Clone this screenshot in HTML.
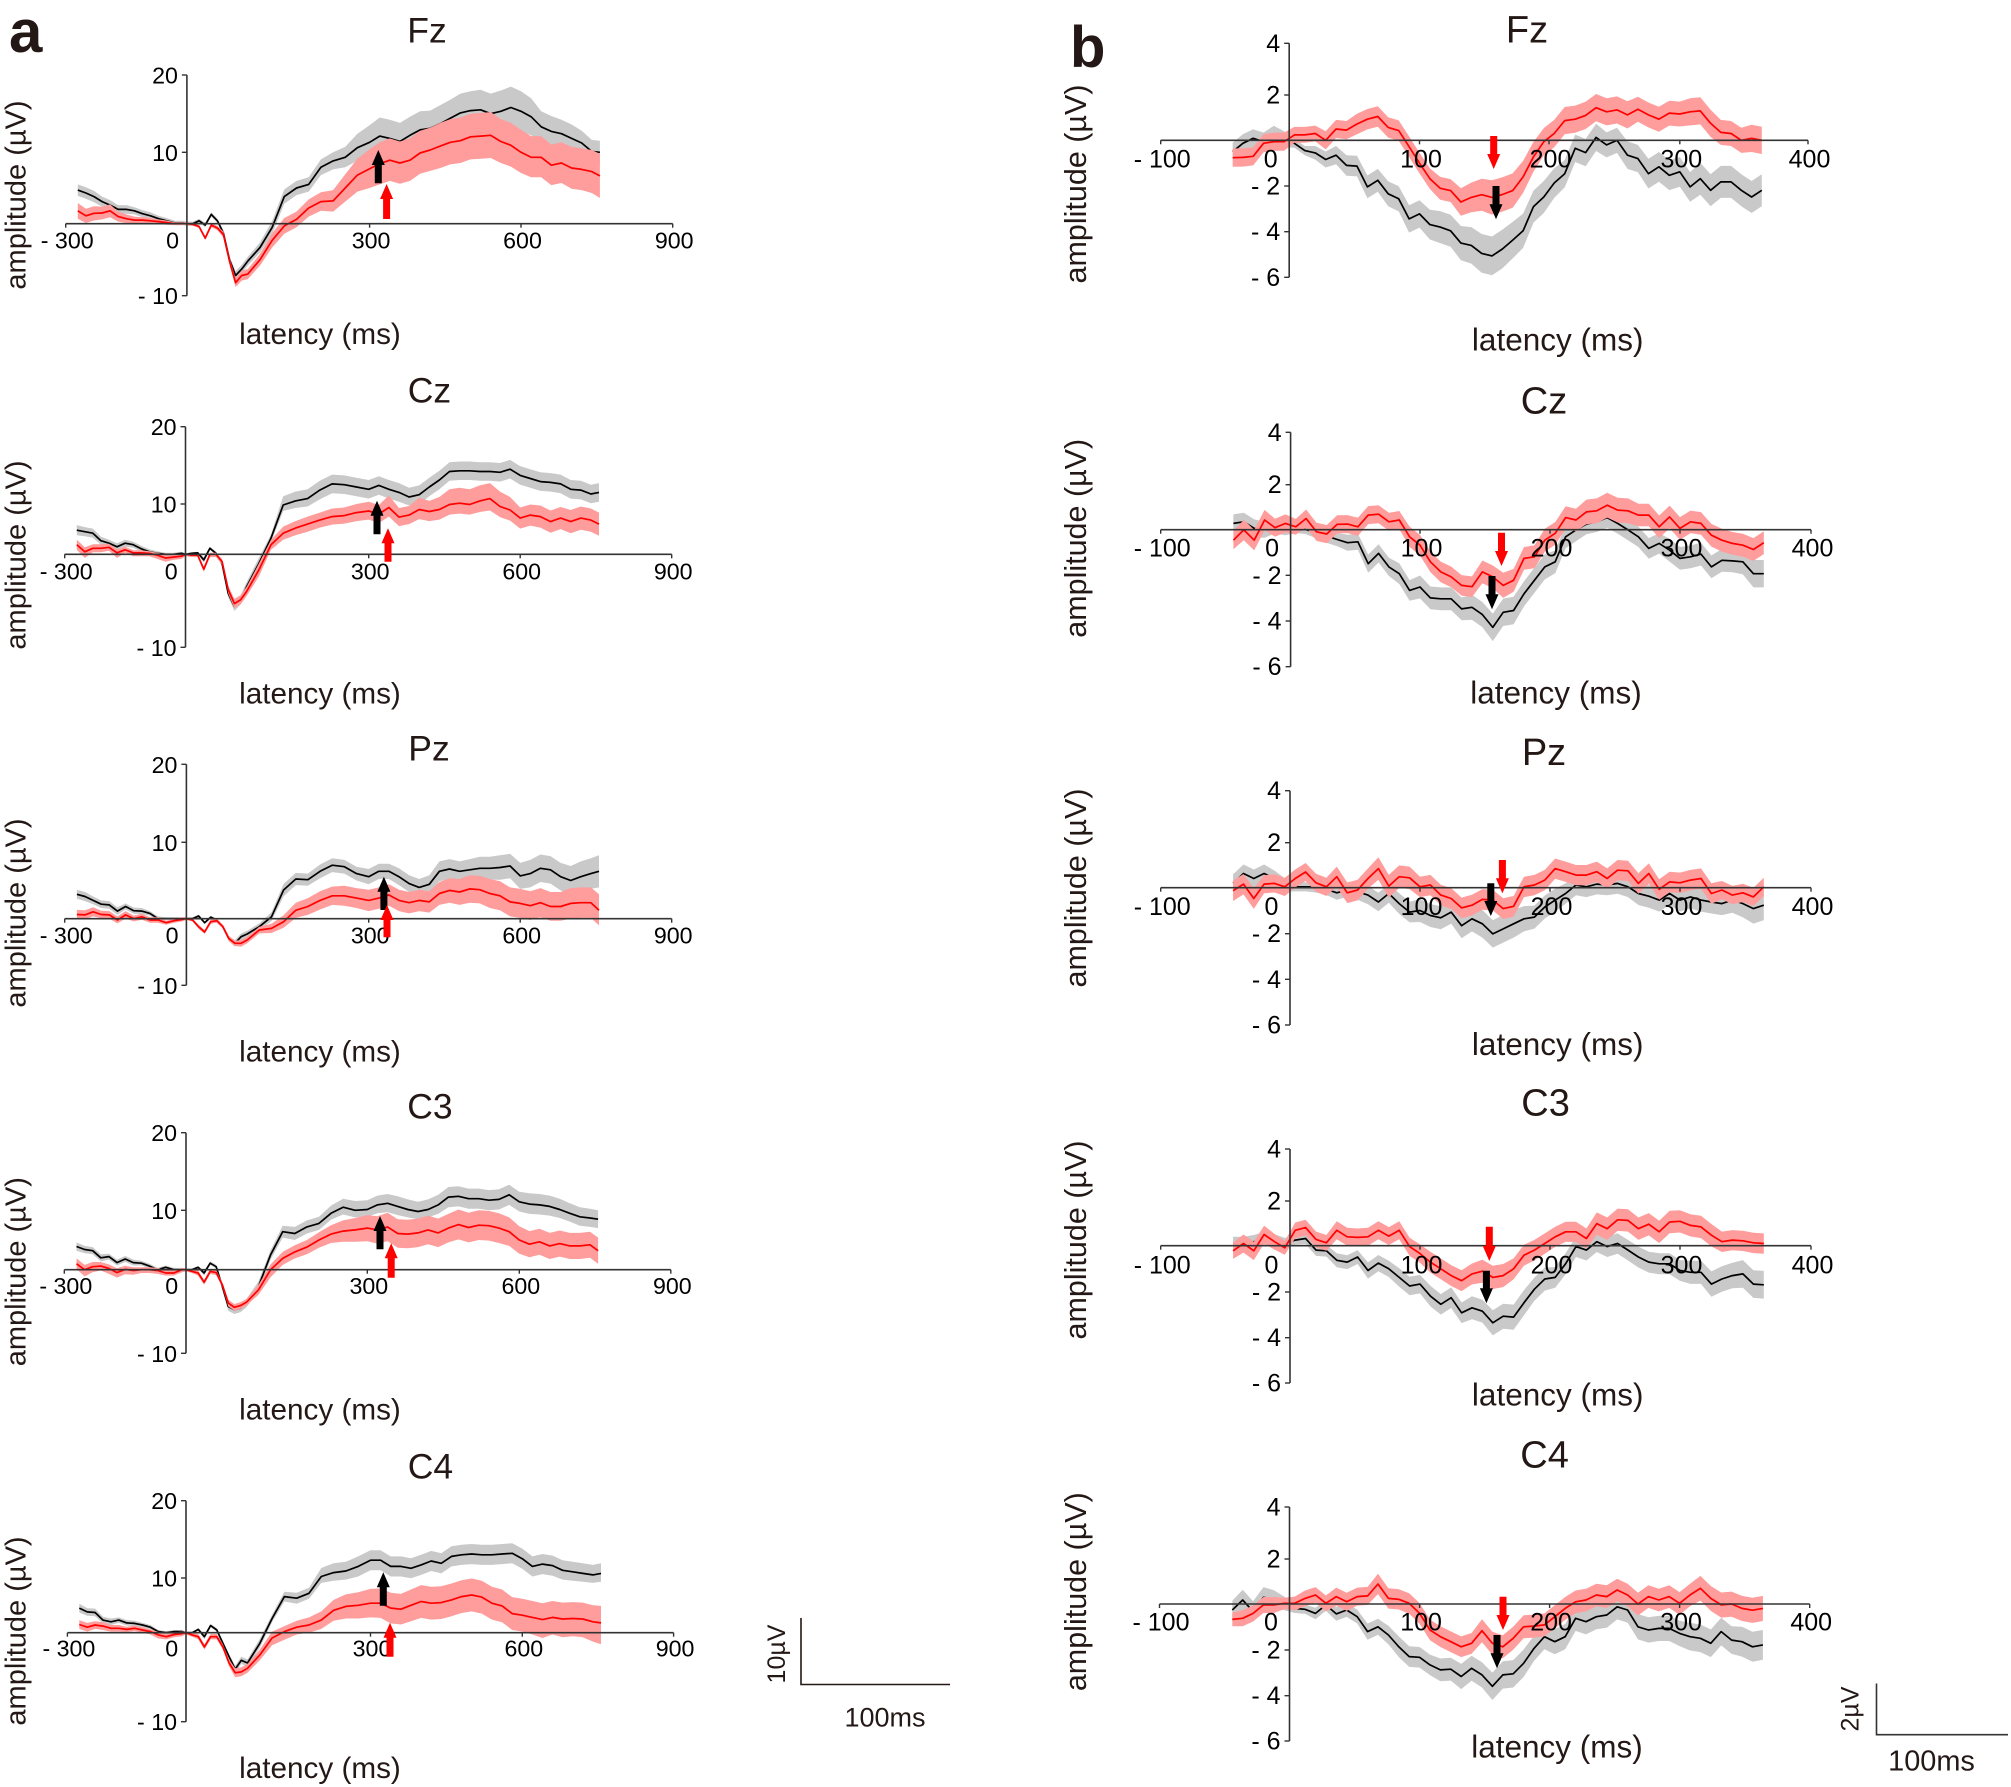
<!DOCTYPE html>
<html lang="en">
<head>
<meta charset="utf-8">
<title>ERP waveforms at Fz, Cz, Pz, C3 and C4</title>
<style>
html,body{margin:0;padding:0;background:#fff;width:2011px;height:1787px;overflow:hidden}
svg{display:block;font-family:"Liberation Sans",Arial,sans-serif}
</style>
</head>
<body>
<svg id="figure" xmlns="http://www.w3.org/2000/svg" width="2011" height="1787" viewBox="0 0 2011 1787">
  <rect x="0" y="0" width="2011" height="1787" fill="#fff"/>
  <g id="panels"></g>
  <text x="9" y="52" font-size="60" font-weight="bold" fill="#231815">a</text>
  <text x="1070" y="67" font-size="58" font-weight="bold" fill="#231815">b</text>
  <g>
    <path d="M801 1618V1684.5H950" fill="none" stroke="#231815" stroke-width="1.6"/>
    <text transform="translate(785 1654) rotate(-90)" text-anchor="middle" font-size="25" fill="#231815">10µV</text>
    <text x="885" y="1726.5" text-anchor="middle" font-size="27" fill="#231815">100ms</text>
  </g>
  <g>
    <path d="M1876.5 1683.5V1734.7H2008" fill="none" stroke="#333" stroke-width="1.6"/>
    <text transform="translate(1858.5 1709) rotate(-90)" text-anchor="middle" font-size="25" fill="#231815">2µV</text>
    <text x="1931.5" y="1770.5" text-anchor="middle" font-size="28.9" fill="#231815">100ms</text>
  </g>
</svg>
<script>
// ---------- Column a: latency samples and tick labels ----------
const latA=[-270,-250,-230,-210,-190,-170,-150,-130,-110,-90,-70,-50,-30,-10,0,
10,20,30,40,50,60,70,80,90,100,
120,140,160,180,200,220,240,260,280,300,
320,340,360,380,400,420,440,460,480,500,520,540,560,580,600,620,640,660,680,700,720,740,756];
const xTicksA=[-300,0,300,600,900];
const xTickLabelsA=['- 300','0','300','600','900'];
const yTicksA=[-10,0,10,20];
const yTickLabelsA=['- 10','','10','20'];

// Column a series (µV)
const aFzBlack=[4.7,4.3,3.8,3.1,2.6,2,2,1.8,1.4,1.1,.7,.4,.1,.1,0,
0,.4,-.2,1.3,.4,-1.3,-5,-7.2,-6.3,-5.2,
-3.3,-.5,3.8,5,5.5,7.9,8.8,9.3,10.6,11.3,
12.1,11.8,11.4,12.2,12.9,13.1,13.7,14.4,15.1,15.4,15.5,15,15.3,15.8,15.3,14.6,13.3,12.7,12.4,11.8,11.2,10.1,10];
const aFzBlackSem=[.8,.8,.8,.7,.7,.6,.6,.5,.5,.5,.4,.4,.3,.3,.3,
.3,.3,.3,.3,.3,.4,.5,.6,.6,.6,
.7,.9,1,1,1,1.1,1.2,1.4,1.8,2.2,
2.4,2.4,2.4,2.4,2.4,2.3,2.4,2.4,2.5,2.5,2.6,2.6,2.7,2.7,2.6,2.4,2,2,1.8,1.8,1.6,1.5,1.5];
const aFzRed=[1.8,1.1,1.45,1.5,1.8,1,.7,.5,.5,.4,.3,.15,0,0,0,
-.1,-.4,-2,-.2,-.6,-1.5,-5.2,-8.2,-7.2,-7,
-5,-2.3,-.3,.6,2.2,3.1,3.2,5,6.8,7.7,
8.4,8.9,8.5,8.9,9.9,10.3,10.8,11.3,11.5,12,12.1,12.2,11.4,10.9,10,9.3,9.3,8.2,8.5,7.8,7.6,7.3,6.7];
const aFzRedSem=[1.1,1,1,.9,.9,.7,.6,.5,.4,.4,.3,.3,.2,.2,.2,
.2,.2,.3,.3,.3,.4,.5,.6,.7,.7,
.8,1,1.1,1.1,1.2,1.3,1.5,1.9,2.3,2.7,
2.9,2.9,2.9,2.9,2.9,2.9,3,3,3,3,3,3,2.9,2.9,2.9,2.8,2.8,2.8,2.8,2.9,2.9,3,3.1];

const aCzBlack=[4.8,4.5,4.2,2.7,2.2,1.5,2.2,1.9,1.1,.5,.2,0,0,.2,0,
.2,.3,-.6,1.2,.2,-1,-4.2,-5.6,-4.9,-3.5,
-1,3.2,9.8,10.4,10.7,11.8,12.6,12.5,12.2,11.9,
12.4,11.9,11.5,10.9,11.2,12.2,13.1,14.2,14.3,14.3,14.2,14.2,14.1,14.5,13.7,13.3,12.9,12.8,12.6,11.9,11.8,11.3,11.5];
const aCzBlackSem=[1,.9,.9,.8,.7,.7,.7,.6,.6,.5,.4,.3,.3,.3,.2,
.2,.2,.3,.3,.3,.3,.4,.5,.5,.5,
.6,.8,1.2,1.2,1.2,1.2,1.2,1.2,1.2,1.2,
1.2,1.2,1.2,1.2,1.2,1.2,1.2,1.2,1.2,1.2,1.2,1.2,1.2,1.2,1.2,1.2,1.2,1.2,1.2,1.2,1.2,1.2,1.2];
const aCzRed=[1.9,.5,1.2,1.2,1.4,.3,.9,.3,.3,.2,-.1,-.4,-.3,-.2,0,
-.1,-.1,-1.6,0,0,-.8,-3.8,-5.3,-4.9,-4,
-1.7,1.9,4.2,5.2,6,6.8,7.5,7.7,8.3,8.6,
8,9.3,7.4,7.8,8.9,8.5,8.9,9.9,10.1,9.9,10.4,10.7,9.5,8.8,7.2,7.8,7.5,6.5,7.2,6.5,7.2,6.8,6];
const aCzRedSem=[1,.9,.8,.8,.7,.7,.6,.5,.5,.4,.4,.4,.3,.3,.2,
.2,.2,.3,.3,.3,.3,.4,.5,.5,.5,
.7,1,1.3,1.4,1.5,1.5,1.6,1.6,1.7,1.7,
1.8,1.8,1.8,1.8,1.9,1.9,2,2,2,2,2,2,2.1,2.1,2.1,2.1,2.2,2.2,2.2,2.3,2.3,2.3,2.3];

const aPzBlack=[3.2,2.9,2.4,1.9,1.8,1,1.6,1.05,1,.7,0,0,0,0,0,
0,.35,-.6,.2,-.2,-1.2,-3,-3.7,-2.7,-2.3,
-1.2,.25,3.75,5.2,5.1,6.2,7,6.8,5.9,5.5,
6.2,6.2,5.5,4.6,4.1,4.5,6.2,6.5,6.2,6.4,6.6,6.6,6.7,6.9,5.6,5.9,6.6,6.4,5.5,5,5.5,5.9,6.2];
const aPzBlackSem=[.6,.6,.5,.5,.5,.5,.4,.4,.4,.3,.3,.2,.2,.2,.2,
.2,.2,.2,.2,.2,.3,.4,.5,.5,.5,
.5,.6,.8,.8,.8,.9,.9,.9,.9,1,
1,1,1.1,1.1,1.1,1.2,1.3,1.3,1.3,1.4,1.5,1.5,1.6,1.6,1.7,1.8,1.8,1.8,1.8,1.9,2,2,2.1];
const aPzRed=[.55,.5,.9,.55,.5,-.2,.5,0,.25,-.2,-.2,-.6,-.3,-.1,0,
-.2,-1.2,-2,-.45,-.3,-1.2,-3,-3.7,-3.7,-3.2,
-1.7,-1.45,-.45,1.1,1.6,2.4,3,3,2.7,2.4,
2.7,3.1,2.4,2.1,2.4,2.2,3.3,3.7,3.5,3.9,3.8,3.3,3,2.2,2,1.7,2.1,1.6,1.6,2,2.1,2.1,1.1];
const aPzRedSem=[.6,.6,.6,.5,.5,.5,.5,.4,.4,.4,.4,.3,.3,.3,.2,
.2,.3,.3,.3,.3,.3,.4,.4,.5,.5,
.5,.7,.9,1,1.1,1.2,1.2,1.3,1.3,1.4,
1.4,1.4,1.4,1.4,1.4,1.4,1.5,1.6,1.7,1.8,1.8,1.9,1.9,1.9,1.9,1.9,1.9,1.9,1.9,2,2,2,2.1];

const aC3Black=[3.9,3.4,3.2,2,2.2,1.2,1.8,1.2,1.1,.6,0,.4,0,0,0,
0,.4,-.4,1.1,.5,-2,-4.4,-4.8,-4.6,-4,
-2,2.5,6.4,6.1,7.2,7.8,9.5,10.4,10,10.1,
10.7,10.9,10.5,10.1,9.8,10.1,10.7,11.7,11.8,11.5,11.5,11.3,11.4,12,11.1,10.8,10.7,10.5,10.1,9.5,8.9,8.7,8.5];
const aC3BlackSem=[.7,.6,.6,.6,.5,.5,.5,.5,.4,.4,.3,.3,.3,.3,.2,
.2,.2,.3,.3,.3,.4,.5,.5,.5,.5,
.6,.8,1,1.1,1.1,1.1,1.1,1.1,1.2,1.2,
1.2,1.2,1.3,1.3,1.3,1.3,1.3,1.3,1.3,1.3,1.3,1.3,1.3,1.3,1.3,1.4,1.4,1.4,1.4,1.4,1.5,1.5,1.5];
const aC3Red=[1,0,.5,.6,.2,-.35,.05,-.1,0,0,-.1,-.4,-.4,0,0,
-.2,-.4,-1.5,-.2,-.35,-1.8,-4,-4.5,-4.3,-3.9,
-2.4,0,1.9,3,3.8,5,6,6.5,6.7,7,
6.7,7.2,6.1,6,6.2,6.7,6.2,7,7.6,7.1,7.5,7.4,7,6.4,5,4.3,4.7,4,4.4,4,4,4.2,3.2];
const aC3RedSem=[.9,.8,.8,.7,.7,.6,.6,.5,.4,.4,.4,.3,.3,.3,.2,
.2,.3,.3,.3,.3,.3,.4,.4,.4,.4,
.6,.9,1.1,1.1,1.2,1.3,1.5,1.8,2,2.2,
2.3,2.4,2.4,2.4,2.4,2.4,2.4,2.4,2.5,2.5,2.5,2.5,2.5,2.4,2.3,2.2,2.2,2.2,2.2,2.2,2.2,2.2,2.2];

const aC4Black=[4.5,3.8,3.7,2.3,2,2.3,1.8,1.7,1.4,1,.2,0,.2,.2,0,
0,.6,-.45,1.3,.5,-1.2,-2.7,-4.1,-3.1,-3.4,
-1.2,2.6,6.6,6.3,7.2,10.2,10.7,10.9,11.5,12.3,
12.3,11.5,11.5,11.25,11.7,12.2,11.9,12.8,13,13.1,13,13,13.1,13.2,12.5,11.5,11.8,11.6,11,10.8,10.6,10.4,10.6];
const aC4BlackSem=[.8,.7,.7,.6,.6,.5,.5,.5,.4,.4,.3,.3,.3,.3,.2,
.2,.2,.3,.3,.3,.3,.3,.4,.4,.4,
.5,.7,.9,1,1,1.1,1.2,1.2,1.3,1.3,
1.3,1.3,1.3,1.3,1.3,1.3,1.3,1.3,1.3,1.3,1.3,1.3,1.3,1.3,1.3,1.3,1.3,1.3,1.3,1.3,1.3,1.3,1.3];
const aC4Red=[1.5,1,1.4,1.2,.8,.8,.6,.8,.5,.2,-.25,-.45,-.2,-.1,0,
-.25,-.45,-1.6,-.45,-.45,-1.6,-3.4,-4.5,-4.4,-4,
-2.5,-.6,.2,1,1.4,2.3,4.1,4.8,5,5.4,
5.4,4.5,4.3,5,5.7,5.4,5.5,6,6.6,6.9,6.5,5.4,4.9,3.5,3.2,2.8,2.4,2.8,2.5,2.6,2.5,2,1.8];
const aC4RedSem=[.8,.8,.7,.7,.6,.6,.5,.5,.5,.4,.4,.3,.3,.3,.2,
.2,.3,.3,.3,.3,.3,.4,.5,.5,.5,
.6,.8,1,1.2,1.4,1.6,1.9,2.2,2.4,2.6,
2.7,2.8,2.8,2.9,3,3,3,3,3,3,3,3,3,3,3,3,3,3,3,3,3,3,3.1];

// ---------- Column b: latency samples and tick labels ----------
const latB=[-44,-36,-28,-20,-12,-4,4,12,20,28,36,44,52,60,68,76,84,92,100,108,116,124,132,140,148,156,164,172,180,188,196,204,212,220,228,236,244,252,260,268,276,284,292,300,308,316,324,332,340,348,356,364];
const xTicksB=[-100,0,100,200,300,400];
const xTickLabelsB=['- 100','0','100','200','300','400'];
const yTicksB=[-6,-4,-2,0,2,4];
const yTickLabelsB=['- 6','- 4','- 2','','2','4'];

// Column b series (µV)
const bFzRed=[-.76,-.75,-.7,-.13,-.06,-.06,.24,.24,.3,0,
.5,.45,.72,.93,1.05,.57,.43,-.28,-1,-1.68,
-2.1,-2.2,-2.7,-2.5,-2.38,-2.5,-2.37,-2.2,-1.6,-.72,
-.06,.3,.87,.93,1.1,1.44,1.26,1.34,1.12,1.37,
1.12,.93,1.2,1.16,1.26,1.3,.75,.35,.3,0,
.09,0];
const bFzRedSem=[.4,.4,.4,.4,.4,.4,.35,.35,.35,.4,
.4,.4,.45,.45,.45,.45,.45,.45,.45,.45,
.5,.5,.6,.65,.7,.75,.75,.75,.7,.65,
.6,.6,.6,.6,.6,.6,.6,.6,.6,.55,
.55,.55,.55,.55,.6,.6,.6,.55,.55,.55,
.6,.6];
const bFzBlack=[-.5,-.13,.09,-.06,.24,.05,-.13,-.45,-.55,-.84,
-.65,-1.1,-1.13,-2.04,-1.75,-2.34,-2.56,-3.44,-3.22,-3.69,
-3.8,-3.96,-4.5,-4.6,-4.95,-5.06,-4.76,-4.37,-3.96,-2.9,
-2.48,-1.87,-1.46,-.35,-.54,.13,-.2,0,-.65,-.8,
-1.46,-1.16,-1.53,-1.38,-2.04,-1.68,-2.19,-1.82,-1.82,-2.19,
-2.48,-2.19];
const bFzBlackSem=[.4,.4,.4,.4,.4,.35,.2,.2,.3,.35,
.4,.45,.45,.5,.5,.55,.55,.6,.6,.65,
.7,.7,.75,.8,.85,.85,.85,.8,.75,.7,
.7,.65,.6,.6,.6,.6,.55,.55,.6,.6,
.65,.65,.65,.65,.65,.7,.7,.7,.7,.7,
.7,.7];

const bCzRed=[-.46,-.01,-.46,.43,.09,.28,.13,.5,-.09,-.19,
.24,.25,.13,.65,.69,.35,.43,-.31,-.68,-1.41,
-1.85,-2.07,-2.44,-2.5,-1.85,-2.07,-2.44,-2.22,-1.26,-1.19,
-.46,-.16,.54,.43,.79,.84,1.09,.87,.84,.65,
.65,.13,.57,.06,.35,.28,-.24,-.46,-.6,-.68,
-.87,-.57];
const bCzRedSem=[.4,.45,.45,.45,.4,.4,.35,.4,.4,.4,
.4,.4,.4,.4,.4,.4,.4,.45,.45,.45,
.45,.45,.45,.45,.5,.5,.55,.5,.5,.5,
.5,.5,.5,.5,.55,.55,.55,.55,.55,.5,
.5,.5,.5,.5,.5,.5,.5,.5,.5,.5,
.5,.5];
const bCzBlack=[.28,.35,.06,0,.13,.06,.06,0,-.13,-.28,
-.43,-.57,-.53,-1.49,-1.04,-1.63,-1.93,-2.66,-2.51,-2.99,
-3.03,-3.03,-3.47,-3.4,-3.72,-4.28,-3.62,-3.54,-2.81,-2.22,
-1.63,-1.41,-.31,-.01,.25,.35,.54,.28,-.01,-.31,
-.82,-.6,-.9,-1.26,-1.19,-1.07,-1.63,-1.34,-1.37,-1.41,
-1.93,-1.93];
const bCzBlackSem=[.4,.4,.4,.35,.3,.3,.2,.2,.25,.3,
.3,.35,.35,.4,.4,.4,.45,.45,.5,.5,
.5,.5,.5,.55,.55,.6,.6,.6,.55,.55,
.55,.5,.5,.5,.45,.45,.45,.45,.45,.45,
.45,.45,.5,.5,.5,.5,.5,.5,.5,.55,
.6,.6];

const bPzRed=[-.13,.16,-.47,.16,.19,.04,.41,.7,.22,.04,
.49,-.22,-.1,.41,.85,.07,.49,.44,.04,.12,
-.32,-.47,-.88,-.76,-.51,-.54,-.91,-.81,.04,.12,
.34,.85,.71,.56,.56,.71,.41,.78,.75,.19,
.63,-.07,.26,.22,.34,.41,-.25,-.1,-.32,-.22,
-.4,.04];
const bPzRedSem=[.45,.45,.45,.4,.4,.4,.4,.4,.4,.4,
.45,.45,.45,.45,.5,.5,.5,.5,.45,.45,
.45,.45,.45,.45,.45,.45,.45,.45,.45,.45,
.45,.45,.45,.45,.45,.45,.45,.45,.45,.45,
.45,.45,.45,.45,.45,.45,.45,.4,.4,.4,
.4,.4];
const bPzBlack=[.19,.63,.41,.63,.41,.12,.04,.04,.04,-.07,
-.22,-.1,-.18,-.32,-.62,-.25,-.69,-1.06,-.99,-1.21,
-1.31,-1.06,-1.65,-1.35,-1.57,-2.01,-1.79,-1.57,-1.35,-1.28,
-.84,-.54,-.25,.12,.04,.16,.12,.19,.04,-.25,
-.37,-.54,-.25,-.54,-.4,-.54,-.62,-.69,-.54,-.69,
-.91,-.76];
const bPzBlackSem=[.4,.4,.4,.4,.35,.3,.2,.2,.25,.25,
.3,.3,.35,.4,.4,.4,.45,.45,.5,.5,
.5,.5,.55,.55,.6,.6,.6,.6,.55,.5,
.5,.5,.45,.45,.45,.45,.45,.45,.45,.5,
.5,.5,.5,.5,.5,.5,.5,.5,.55,.6,
.65,.65];

const bC3Red=[-.22,.1,-.22,.5,.18,-.09,.69,.81,.28,.13,
.69,.4,.37,.4,.69,.43,.69,-.04,-.34,-.71,
-1,-1.29,-1.51,-1.22,-1.1,-1.37,-1.29,-1,-.41,-.19,
.1,.4,.62,.62,.32,.99,.76,1.16,1.13,.76,
.96,.62,1.06,1.09,.91,.84,.47,.18,.25,.22,
.13,.1];
const bC3RedSem=[.35,.4,.4,.4,.35,.3,.35,.35,.35,.35,
.4,.4,.4,.4,.4,.4,.4,.4,.4,.45,
.45,.45,.45,.45,.5,.5,.5,.45,.45,.45,
.45,.45,.45,.45,.45,.5,.5,.5,.5,.5,
.5,.5,.5,.5,.5,.5,.5,.45,.45,.45,
.45,.45];
const bC3Black=[.1,.1,.18,.32,.21,.1,.25,.32,-.19,-.22,
-.63,-.71,-.49,-1.07,-.75,-1,-1.37,-1.74,-1.66,-2.18,
-2.54,-2.25,-2.91,-2.69,-2.84,-3.35,-3.06,-3.1,-2.47,-1.88,
-1.44,-1.37,-.78,-.04,-.19,.18,-.04,.1,-.19,-.49,
-.71,-.78,-.78,-1.07,-1.15,-1.15,-1.66,-1.44,-1.29,-1.22,
-1.66,-1.69];
const bC3BlackSem=[.3,.3,.3,.3,.3,.25,.2,.25,.25,.25,
.3,.3,.3,.35,.35,.35,.4,.4,.4,.45,
.45,.45,.45,.5,.5,.55,.55,.55,.55,.5,
.5,.45,.45,.45,.45,.45,.45,.45,.45,.45,
.45,.45,.45,.45,.5,.5,.55,.55,.55,.6,
.6,.6];

const bC4Red=[-.67,-.62,-.41,-.04,-.04,.03,.03,.25,.4,.03,
.33,.1,.33,.36,.89,.25,.21,.03,-.41,-1.13,
-1.42,-1.64,-1.86,-1.71,-1.16,-1.71,-1.86,-1.49,-.99,-.96,
-.91,-.55,-.19,.1,.18,.4,.33,.62,.4,0,
.33,.18,.33,.03,.4,.7,.25,-.04,0,-.19,
-.27,-.19];
const bC4RedSem=[.3,.35,.35,.35,.35,.25,.3,.35,.35,.35,
.4,.4,.4,.4,.45,.45,.45,.45,.45,.45,
.45,.45,.45,.45,.5,.5,.5,.5,.5,.5,
.5,.5,.5,.5,.5,.5,.5,.5,.5,.5,
.5,.5,.5,.5,.5,.55,.55,.55,.55,.55,
.55,.55];
const bC4Black=[-.26,.18,-.33,.3,.21,.03,-.19,-.23,-.41,-.04,
-.43,-.26,-.55,-1.2,-.99,-1.35,-1.86,-2.29,-2.32,-2.65,
-2.87,-2.84,-3.16,-2.8,-3.09,-3.59,-3.09,-3.04,-2.58,-1.93,
-1.42,-1.64,-1.42,-.62,-.77,-.55,-.48,-.12,-.26,-.99,
-1.13,-1.06,-1.06,-1.28,-1.42,-1.49,-1.71,-1.2,-1.57,-1.64,
-1.86,-1.78];
const bC4BlackSem=[.4,.45,.45,.45,.4,.3,.2,.2,.25,.25,
.3,.3,.3,.35,.35,.4,.45,.45,.45,.45,
.5,.5,.55,.55,.55,.6,.6,.6,.6,.55,
.55,.55,.55,.55,.55,.55,.55,.55,.55,.55,
.55,.55,.55,.55,.6,.6,.6,.6,.6,.65,
.65,.65];

// ---------- Panel layout (pixel anchors for axes, never data) ----------
const fontBlack='#231815';
const panels=[
 {id:'a-fz',title:'Fz',col:'a',black:aFzBlack,blackSem:aFzBlackSem,red:aFzRed,redSem:aFzRedSem,
  xPx:[65.7,186.9,369.6,521,672.7],yPx:[295.7,223.7,152.3,75],tickBase:248.3,titleX:427,titleBase:42.7,latX:320,latBase:344,ampY:195,
  blackArrow:[378.3,183.3,150],redArrow:[386.6,219,184]},
 {id:'a-cz',title:'Cz',col:'a',black:aCzBlack,blackSem:aCzBlackSem,red:aCzRed,redSem:aCzRedSem,
  xPx:[64.7,185.5,368.7,520.2,671.7],yPx:[647.3,554.3,504,426.7],tickBase:579.3,titleX:429.5,titleBase:402.3,latX:320,latBase:703.5,ampY:555,
  blackArrow:[377,534.3,500.7],redArrow:[388,561.7,528.3]},
 {id:'a-pz',title:'Pz',col:'a',black:aPzBlack,blackSem:aPzBlackSem,red:aPzRed,redSem:aPzRedSem,
  xPx:[64.7,186.4,368.7,520.2,671.7],yPx:[985.3,918.7,842.3,764.3],tickBase:943.3,titleX:429,titleBase:760.7,latX:320,latBase:1061.5,ampY:913,
  blackArrow:[383.9,910,876.7],redArrow:[387,937.3,905]},
 {id:'a-c3',title:'C3',col:'a',black:aC3Black,blackSem:aC3BlackSem,red:aC3Red,redSem:aC3RedSem,
  xPx:[64.3,186,367.3,519.3,670.8],yPx:[1353.3,1269.7,1210.3,1132.7],tickBase:1294,titleX:430,titleBase:1118.3,latX:320,latBase:1419.5,ampY:1271.7,
  blackArrow:[380,1249.3,1216],redArrow:[391.2,1277.7,1243.3]},
 {id:'a-c4',title:'C4',col:'a',black:aC4Black,blackSem:aC4BlackSem,red:aC4Red,redSem:aC4RedSem,
  xPx:[67.4,186,370.5,522.3,673.6],yPx:[1721.7,1632.7,1578,1500.7],tickBase:1656.7,titleX:430.5,titleBase:1478.3,latX:320,latBase:1778,ampY:1631,
  blackArrow:[383.3,1605.7,1572.3],redArrow:[390,1656.7,1622.7]},
 {id:'b-fz',title:'Fz',col:'b',black:bFzBlack,blackSem:bFzBlackSem,red:bFzRed,redSem:bFzRedSem,
  xPx:[1160.7,1289.2,1419.5,1549,1679.8,1808],yPx:[277.3,231.7,186,140.3,95,43.3],tickBase:167.7,titleX:1527,titleBase:42.7,latX:1557.7,latBase:350.5,ampY:184,
  blackArrow:[1496,186,219.3],redArrow:[1493.7,136,169]},
 {id:'b-cz',title:'Cz',col:'b',black:bCzBlack,blackSem:bCzBlackSem,red:bCzRed,redSem:bCzRedSem,
  xPx:[1160.7,1290.6,1420,1550,1680,1811],yPx:[666.7,621,575.3,529.7,484.7,432.3],tickBase:556.7,titleX:1544,titleBase:413.3,latX:1556,latBase:703.5,ampY:538.3,
  blackArrow:[1492,576,609.3],redArrow:[1501.5,532.7,566]},
 {id:'b-pz',title:'Pz',col:'b',black:bPzBlack,blackSem:bPzBlackSem,red:bPzRed,redSem:bPzRedSem,
  xPx:[1160.7,1290,1420,1550,1680,1811],yPx:[1025,979.3,933.7,887.7,842.7,790.7],tickBase:915,titleX:1544,titleBase:765,latX:1557.7,latBase:1055,ampY:888,
  blackArrow:[1490.8,883.3,916],redArrow:[1502.4,860,893.3]},
 {id:'b-c3',title:'C3',col:'b',black:bC3Black,blackSem:bC3BlackSem,red:bC3Red,redSem:bC3RedSem,
  xPx:[1160.7,1290,1420,1550,1680,1811],yPx:[1383,1337.7,1292,1245.7,1201,1149],tickBase:1273.3,titleX:1545.6,titleBase:1115.7,latX:1557.7,latBase:1405.5,ampY:1240,
  blackArrow:[1486.4,1270.7,1303.3],redArrow:[1489.3,1226.7,1261]},
 {id:'b-c4',title:'C4',col:'b',black:bC4Black,blackSem:bC4BlackSem,red:bC4Red,redSem:bC4RedSem,
  xPx:[1159.5,1289.5,1419.6,1549.6,1679.6,1809.7],yPx:[1741,1695.7,1650,1604,1559,1507],tickBase:1630.7,titleX:1544.6,titleBase:1467.3,latX:1557,latBase:1757.5,ampY:1591.7,
  blackArrow:[1497,1635,1668.3],redArrow:[1503,1596.7,1630]}
];

// ---------- Rendering ----------
const SVGNS='http://www.w3.org/2000/svg';
function make(tag,attrs,parent){
  const el=document.createElementNS(SVGNS,tag);
  for(const k in attrs){el.setAttribute(k,attrs[k]);}
  parent.appendChild(el);
  return el;
}
// Axis function: piecewise-linear through the printed tick anchors
function axisScale(domain,range){
  return function(v){
    let i=0;
    while(i<domain.length-2&&v>domain[i+1]){i++;}
    const t=(v-domain[i])/(domain[i+1]-domain[i]);
    return range[i]+t*(range[i+1]-range[i]);
  };
}
function f(n){return n.toFixed(1);}
function linePath(lat,vals,x,y){
  return vals.map(function(v,i){return (i?'L':'M')+f(x(lat[i]))+' '+f(y(v));}).join('');
}
function bandPath(lat,vals,sem,x,y){
  const up=vals.map(function(v,i){return (i?'L':'M')+f(x(lat[i]))+' '+f(y(v+sem[i]));}).join('');
  let down='';
  for(let i=vals.length-1;i>=0;i--){down+='L'+f(x(lat[i]))+' '+f(y(vals[i]-sem[i]));}
  return up+down+'Z';
}
function arrowPoints(a){
  const x=a[0],tail=a[1],tip=a[2],dir=tip<tail?1:-1,neck=tip+dir*15;
  return [[x-3.5,tail],[x-3.5,neck],[x-6.5,neck],[x,tip],[x+6.5,neck],[x+3.5,neck],[x+3.5,tail]].map(function(p){return f(p[0])+','+f(p[1]);}).join(' ');
}

const root=document.getElementById('panels');
panels.forEach(function(p){
  const isA=p.col==='a';
  const lat=isA?latA:latB;
  const xTicks=isA?xTicksA:xTicksB;
  const xLabels=isA?xTickLabelsA:xTickLabelsB;
  const yTicks=isA?yTicksA:yTicksB;
  const yLabels=isA?yTickLabelsA:yTickLabelsB;
  const tickFont=isA?23.2:25;
  const x=axisScale(xTicks,p.xPx);
  const y=axisScale(yTicks,p.yPx);
  const x0=x(0),y0=y(0);
  const yTop=y(yTicks[yTicks.length-1]),yBot=y(yTicks[0]);

  const g=make('g',{},root);
  
  

  const grayBand=make('path',{d:bandPath(lat,p.black,p.blackSem,x,y),fill:'#c9c9c9'},g);
  
  

  const blackLine=make('path',{d:linePath(lat,p.black,x,y),fill:'none',stroke:'#000','stroke-width':1.7,'stroke-linejoin':'round'},g);
  
  

  const redBand=make('path',{d:bandPath(lat,p.red,p.redSem,x,y),fill:'#ff9c9c'},g);
  
  

  const redLine=make('path',{d:linePath(lat,p.red,x,y),fill:'none',stroke:'#f00','stroke-width':1.7,'stroke-linejoin':'round'},g);
  
  

  const xAxis=make('line',{x1:p.xPx[0],x2:p.xPx[p.xPx.length-1],y1:y0,y2:y0,stroke:'#333','stroke-width':1.6},g);
  
  

  const yAxis=make('line',{x1:x0,x2:x0,y1:yTop,y2:yBot,stroke:'#333','stroke-width':1.6},g);
  
  

  xTicks.forEach(function(t,i){
    const px=x(t);
    if(t!==0){
      const tick=make('line',{x1:px,x2:px,y1:y0,y2:y0+4,stroke:'#333','stroke-width':1.4},g);
      
      
    }
    const dx=t===0?(isA?-14.3:-18.5):1.5;
    const label=make('text',{x:px+dx,y:p.tickBase,'text-anchor':'middle','font-size':tickFont,fill:'#000'},g);
    label.textContent=xLabels[i];
    
    
  });

  yTicks.forEach(function(t,i){
    if(t===0){return;}
    const py=y(t);
    const tick=make('line',{x1:x0-5,x2:x0,y1:py,y2:py,stroke:'#333','stroke-width':1.4},g);
    
    
    const label=make('text',{x:x0-9,y:py+8.5,'text-anchor':'end','font-size':tickFont,fill:'#000'},g);
    label.textContent=yLabels[i];
    
    
  });

  const blackArrow=make('polygon',{points:arrowPoints(p.blackArrow),fill:'#000'},g);
  
  

  const redArrow=make('polygon',{points:arrowPoints(p.redArrow),fill:'#f00'},g);
  
  

  const title=make('text',{x:p.titleX,y:p.titleBase,'text-anchor':'middle','font-size':isA?35.5:38,fill:fontBlack},g);
  title.textContent=p.title;
  
  

  const xTitle=make('text',{x:p.latX,y:p.latBase,'text-anchor':'middle','font-size':isA?29.7:31.5,fill:fontBlack},g);
  xTitle.textContent='latency (ms)';
  
  

  const ampX=isA?25.5:1086;
  const yTitle=make('text',{transform:'translate('+ampX+' '+p.ampY+') rotate(-90)','text-anchor':'middle','font-size':isA?29:30.5,fill:fontBlack},g);
  yTitle.textContent='amplitude (µV)';
  
  
});
</script>
</body>
</html>
